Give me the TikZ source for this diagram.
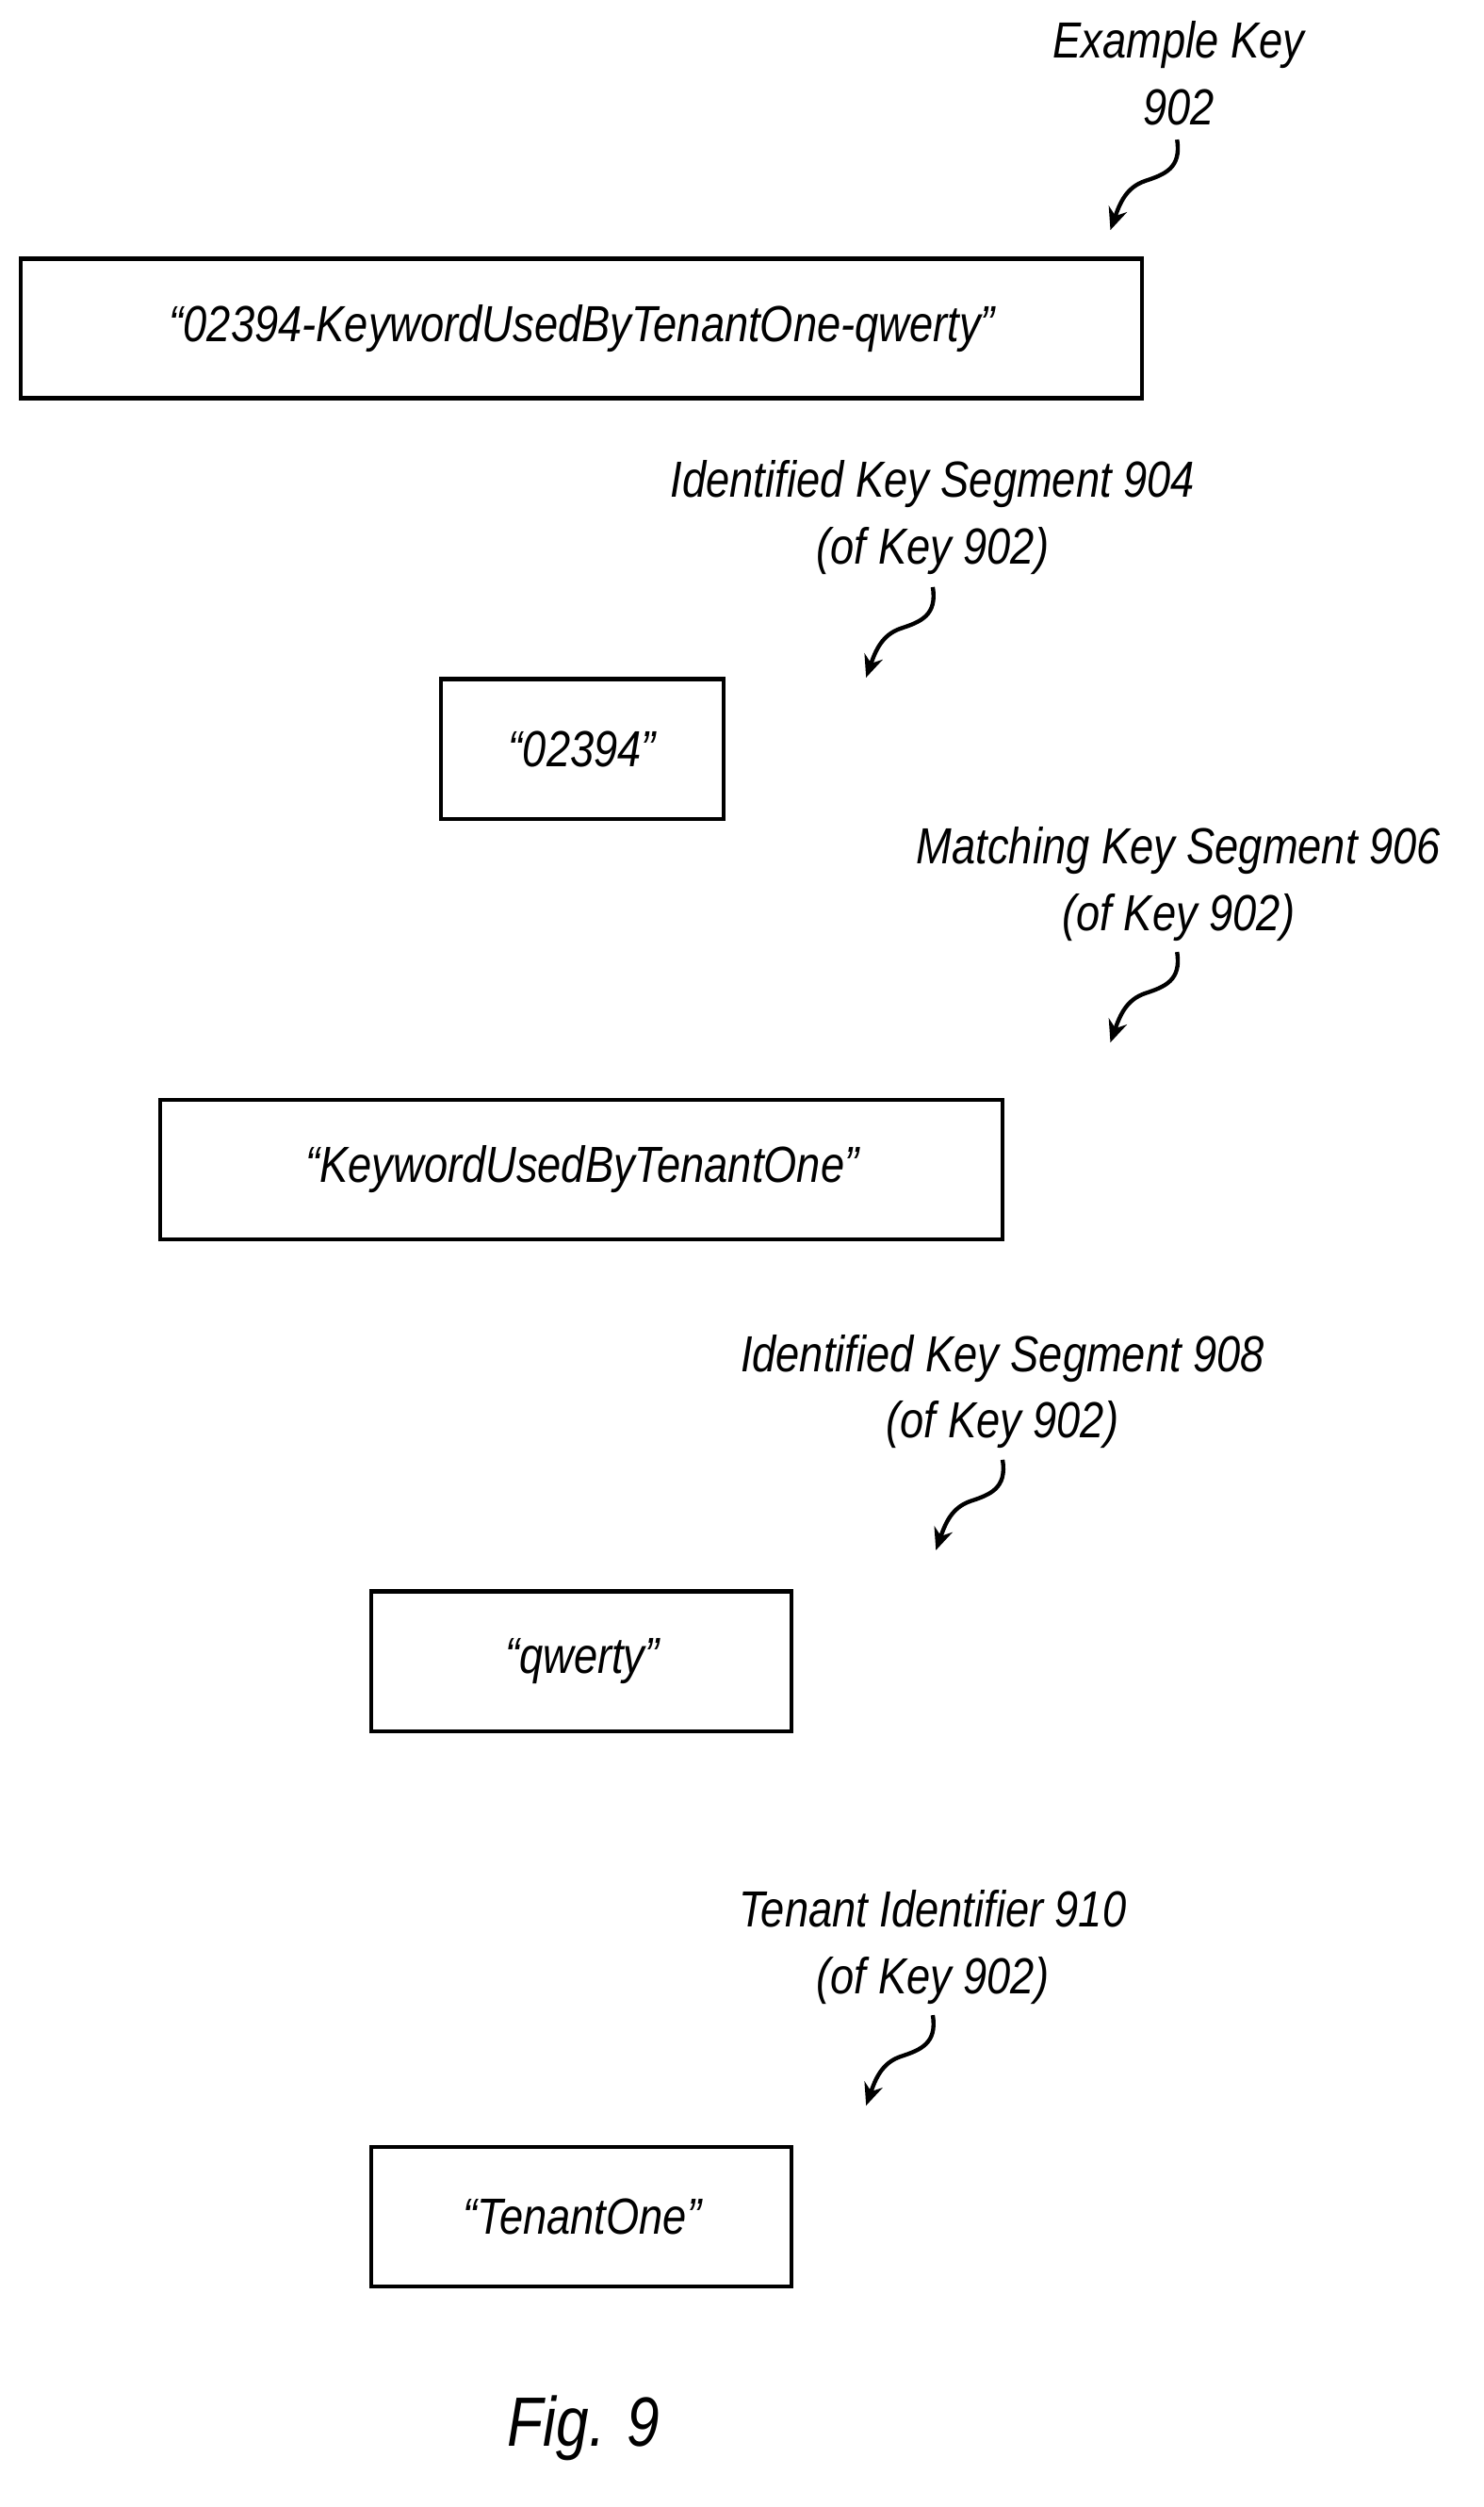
\documentclass[tikz,border=0pt]{standalone}
\usepackage{fontspec}
\setmainfont{Liberation Sans}[FakeStretch=0.84]
\usetikzlibrary{arrows.meta}
\begin{document}
\begin{tikzpicture}[x=0.5pt,y=-0.5pt,
    keybox/.style={draw,line width=1.3pt,inner sep=0pt},
    lbl/.style={align=center,font=\fontsize{16}{21}\selectfont\itshape,inner sep=1pt},
    txt/.style={font=\fontsize{16}{20}\selectfont\itshape},
    sq/.style={line width=1.3pt,-{Stealth[length=7pt,width=6pt]}}]
  \useasboundingbox (0,0) rectangle (935,1580);
  % boxes
  \draw[keybox] (13,163) rectangle (720,251);
  \node[txt] (k902) at (367,207) {“02394-KeywordUsedByTenantOne-qwerty”};
  \draw[keybox] (278,428) rectangle (456,516);
  \node[txt] (k904) at (367,472) {“02394”};
  \draw[keybox] (101,693) rectangle (632,781);
  \node[txt] (k906) at (367,737) {“KeywordUsedByTenantOne”};
  \draw[keybox] (234,1003) rectangle (499,1091);
  \node[txt] (k908) at (367,1047) {“qwerty”};
  \draw[keybox] (234,1353) rectangle (499,1441);
  \node[txt] (k910) at (367,1397) {“TenantOne”};
  % labels
  \node[lbl] (l902) at (743,46) {Example Key\\902};
  \node[lbl] (l904) at (588,326) {Identified Key Segment 904\\(of Key 902)};
  \node[lbl] (l906) at (743,557) {Matching Key Segment 906\\(of Key 902)};
  \node[lbl] (l908) at (632,877) {Identified Key Segment 908\\(of Key 902)};
  \node[lbl] (l910) at (588,1227) {Tenant Identifier 910\\(of Key 902)};
  % squiggly arrows
  \foreach \n/\x/\y in {902/742/88, 904/588/370, 906/742/600, 908/632/920, 910/588/1270} {
    \coordinate (s\n) at (\x,\y);
    \coordinate (t\n) at (\x-42,\y+57);
    \draw[sq] (s\n) .. controls (\x+3,\y+18) and (\x-8,\y+22) .. (\x-20,\y+26)
                    .. controls (\x-32,\y+30) and (\x-36,\y+40) .. (t\n);
  }
  \node[font=\fontsize{22}{26}\selectfont\itshape] (fig) at (368,1530) {Fig. 9};
\end{tikzpicture}
\end{document}
